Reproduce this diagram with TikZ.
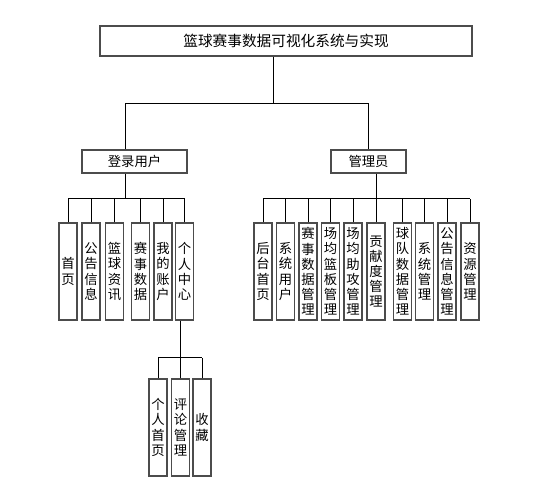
\documentclass[tikz,border=0pt]{standalone}
\usepackage{fontspec}
\newfontfamily\cjk{Noto Sans CJK SC}
\begin{document}
\begin{tikzpicture}[x=0.75pt,y=-0.75pt,
  box/.style={draw=black!70,line width=1.1pt,fill=white,inner sep=0pt,font=\cjk\fontsize{10}{12}\selectfont},
  vbox/.style={box,minimum width=13.5pt,minimum height=72.75pt,align=center,font=\cjk\fontsize{10}{11.4}\selectfont},
  conn/.style={draw=black,line width=0.75pt}]
\useasboundingbox (0,0) rectangle (539,491);
% top
\node[box,minimum width=279pt,minimum height=22.5pt,font=\cjk\fontsize{11}{13}\selectfont] (top) at (286,41) {篮球赛事数据可视化系统与实现};
\node[box,minimum width=78.75pt,minimum height=17.25pt] (user) at (134.5,161.5) {登录用户};
\node[box,minimum width=56.25pt,minimum height=17.25pt] (admin) at (368.5,161.5) {管理员};
% user children
\node[vbox] (u1) at (68,271.5) {首\\页};
\node[vbox] (u2) at (91,271.5) {公\\告\\信\\息};
\node[vbox] (u3) at (114.5,271.5) {篮\\球\\资\\讯};
\node[vbox] (u4) at (140.5,271.5) {赛\\事\\数\\据};
\node[vbox] (u5) at (163,271.5) {我\\的\\账\\户};
\node[vbox] (u6) at (184.5,271.5) {个\\人\\中\\心};
% admin children
\node[vbox] (a1) at (263,271.5) {后\\台\\首\\页};
\node[vbox] (a2) at (285.5,271.5) {系\\统\\用\\户};
\node[vbox] (a3) at (308,271.5) {赛\\事\\数\\据\\管\\理};
\node[vbox] (a4) at (330.5,271.5) {场\\均\\篮\\板\\管\\理};
\node[vbox] (a5) at (353,271.5) {场\\均\\助\\攻\\管\\理};
\node[vbox] (a6) at (376,271.5) {贡\\献\\度\\管\\理};
\node[vbox] (a7) at (402.5,271.5) {球\\队\\数\\据\\管\\理};
\node[vbox] (a8) at (424.5,271.5) {系\\统\\管\\理};
\node[vbox] (a9) at (447,271.5) {公\\告\\信\\息\\管\\理};
\node[vbox] (a10) at (470,271.5) {资\\源\\管\\理};
% sub children
\node[vbox] (s1) at (158,427.5) {个\\人\\首\\页};
\node[vbox] (s2) at (180.5,427.5) {评\\论\\管\\理};
\node[vbox] (s3) at (202,427.5) {收\\藏};
% connectors
\coordinate (b0) at (273,104);
\coordinate (bu) at (125,104);
\coordinate (ub) at (125,199);
\coordinate (ab) at (376,199);
\coordinate (sb) at (180.5,358);
\draw[conn] (top.south -| b0) -- (b0);
\draw[conn] (user.north -| bu) -- (bu) -- (bu -| admin.north) -- (admin.north);
\draw[conn] (user.south -| ub) -- (ub);
\draw[conn] (ub -| u1.north) -- (ub -| u6.north);
\foreach \n in {u1,u2,u3,u4,u5,u6} \draw[conn] (\n.north) -- (\n.north |- ub);
\draw[conn] (admin.south -| ab) -- (ab);
\draw[conn] (ab -| a1.north) -- (ab -| a10.north);
\foreach \n in {a1,a2,a3,a4,a5,a6,a7,a8,a9,a10} \draw[conn] (\n.north) -- (\n.north |- ab);
\draw[conn] (u6.south -| sb) -- (sb);
\draw[conn] (sb -| s1.north) -- (sb -| s3.north);
\foreach \n in {s1,s2,s3} \draw[conn] (\n.north) -- (\n.north |- sb);
\end{tikzpicture}
\end{document}
